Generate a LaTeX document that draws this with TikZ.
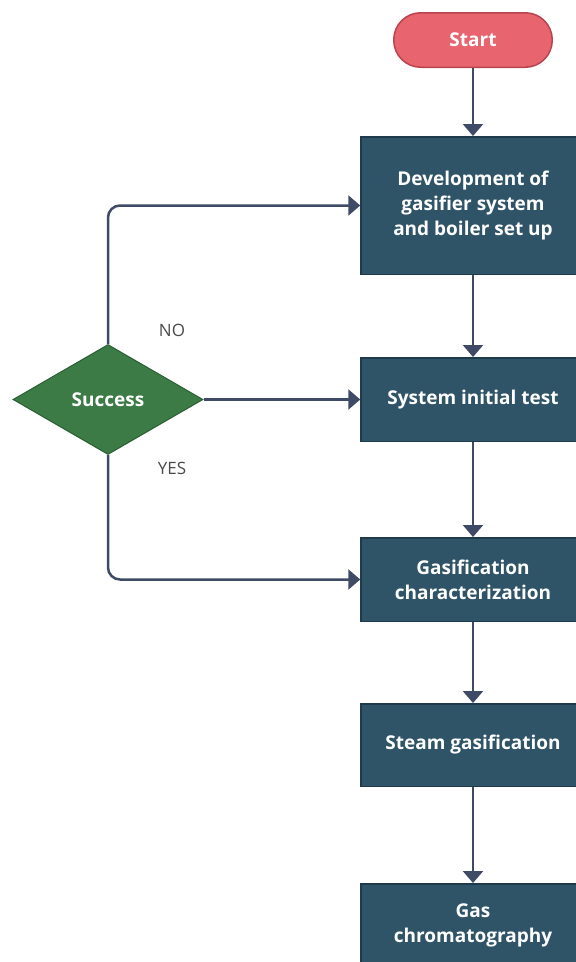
\documentclass[tikz,border=0pt]{standalone}
\usepackage{fontspec}
\setmainfont{Open Sans}
\usetikzlibrary{arrows.meta,positioning,shapes.geometric}

\definecolor{startred}{HTML}{E8646E}
\definecolor{startline}{HTML}{B8444F}
\definecolor{boxblue}{HTML}{2F5468}
\definecolor{boxline}{HTML}{1F3A4A}
\definecolor{decgreen}{HTML}{3C7B46}
\definecolor{decline}{HTML}{2B5E34}
\definecolor{flowline}{HTML}{3E4A66}
\definecolor{labelgray}{HTML}{4A4A4A}

\begin{document}
\begin{tikzpicture}[
  x=1pt, y=-1pt,
  node distance=80pt,
  terminal/.style={draw=startline, line width=1.5pt, fill=startred, text=white, rounded corners=27pt, minimum width=158.5pt, minimum height=54.5pt, font=\bfseries\fontsize{19}{25}\selectfont},
  process/.style={draw=boxline, line width=1.5pt, fill=boxblue, text=white, minimum width=224pt, minimum height=83.5pt, align=center, font=\bfseries\fontsize{19}{25}\selectfont},
  decision/.style={diamond, draw=decline, line width=1pt, fill=decgreen, text=white, aspect=1.73, inner sep=0pt, minimum width=190pt, minimum height=110pt, font=\bfseries\fontsize{19}{25}\selectfont},
  flow/.style={draw=flowline, line width=2.5pt, -{Triangle[width=20pt,length=12pt]}},
  answer/.style={text=labelgray, font=\fontsize{17}{20}\selectfont}
]
  \useasboundingbox (0,0) rectangle (576,962);
  \fill[white] (0,0) rectangle (576,962);

  \node[terminal] (start) at (473,40) {Start};
  \node[process,minimum height=137.5pt,below=68pt of start] (develop) {Development of\\gasifier system\\and boiler set up};
  \node[process,below=82pt of develop] (inittest) {System initial test};
  \node[process,below=95pt of inittest] (charact) {Gasification\\characterization};
  \node[process,minimum height=82.5pt,below=81pt of charact] (steam) {Steam gasification};
  \node[process,below=96pt of steam] (chromato) {Gas\\chromatography};

  \node[decision] (success) at (108,399.5) {Success};
  \node[answer] (no) at (172,330) {NO};
  \node[answer] (yes) at (172,468) {YES};

  \draw[flow] (start) -- (develop);
  \draw[flow] (develop) -- (inittest);
  \draw[flow] (inittest) -- (charact);
  \draw[flow] (charact) -- (steam);
  \draw[flow] (steam) -- (chromato);

  \draw[flow] (success.east) -- (success.east -| inittest.west);
  \draw[flow,rounded corners=12pt] (success.north) |- (develop.west);
  \draw[flow,rounded corners=12pt] (success.south) |- (charact.west);
\end{tikzpicture}
\end{document}
